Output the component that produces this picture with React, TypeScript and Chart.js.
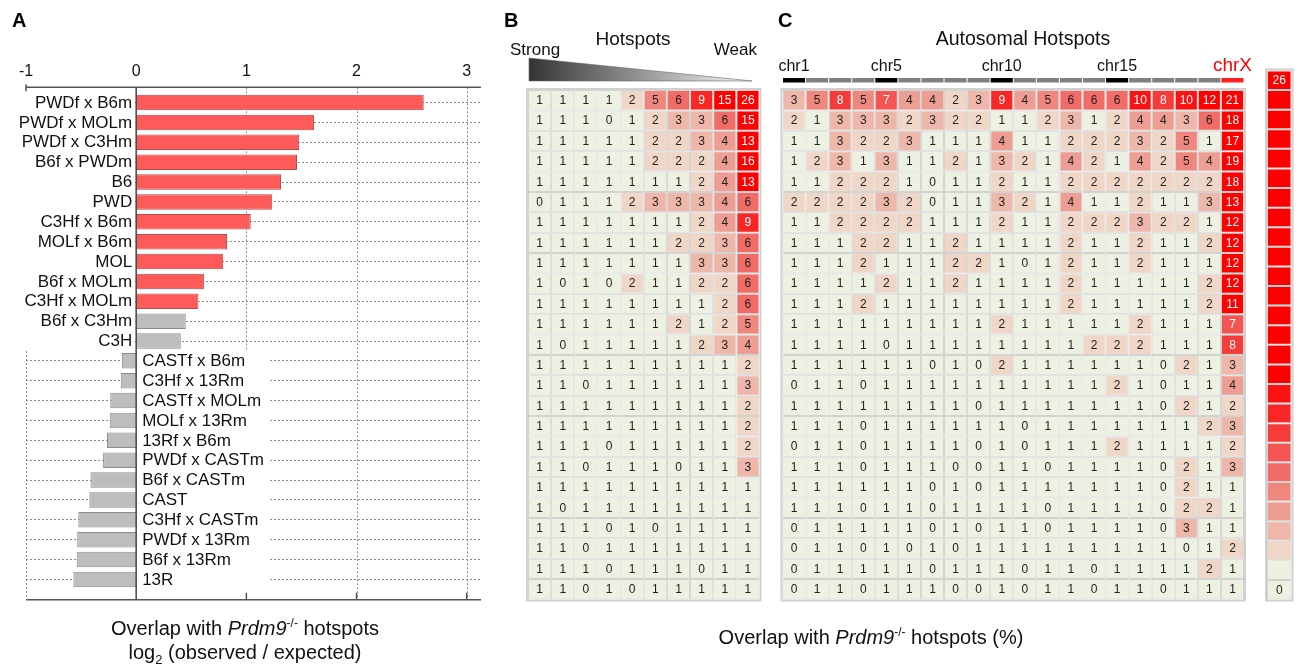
import React, { useEffect, useRef } from 'react';
import { Chart, registerables } from 'chart.js';

Chart.register(...registerables);

const FONT = '"Liberation Sans", Arial, Helvetica, sans-serif';

// ---------- Panel A data ----------
const strainCrosses = [
  'PWDf x B6m', 'PWDf x MOLm', 'PWDf x C3Hm', 'B6f x PWDm', 'B6', 'PWD', 'C3Hf x B6m',
  'MOLf x B6m', 'MOL', 'B6f x MOLm', 'C3Hf x MOLm', 'B6f x C3Hm', 'C3H',
  'CASTf x B6m', 'C3Hf x 13Rm', 'CASTf x MOLm', 'MOLf x 13Rm', '13Rf x B6m', 'PWDf x CASTm',
  'B6f x CASTm', 'CAST', 'C3Hf x CASTm', 'PWDf x 13Rm', 'B6f x 13Rm', '13R',
];
const log2ObsExp = [
  2.61, 1.615, 1.48, 1.46, 1.315, 1.235, 1.04, 0.825, 0.79, 0.615, 0.565, 0.45, 0.405,
  -0.13, -0.14, -0.235, -0.24, -0.265, -0.30, -0.415, -0.425, -0.525, -0.535, -0.54, -0.57,
];
const enriched = [
  true, true, true, true, true, true, true, true, true, true, true, false, false,
  false, false, false, false, false, false, false, false, false, false, false, false,
];
const xTickLabels = [-1, 0, 1, 2, 3];

// ---------- Panel B data (hotspot strength bins, strong -> weak) ----------
const overlapByStrength = [
  [1, 1, 1, 1, 2, 5, 6, 9, 15, 26],
  [1, 1, 1, 0, 1, 2, 3, 3, 6, 15],
  [1, 1, 1, 1, 1, 2, 2, 3, 4, 13],
  [1, 1, 1, 1, 1, 2, 2, 2, 4, 16],
  [1, 1, 1, 1, 1, 1, 1, 2, 4, 13],
  [0, 1, 1, 1, 2, 3, 3, 3, 4, 6],
  [1, 1, 1, 1, 1, 1, 1, 2, 4, 9],
  [1, 1, 1, 1, 1, 1, 2, 2, 3, 6],
  [1, 1, 1, 1, 1, 1, 1, 3, 3, 6],
  [1, 0, 1, 0, 2, 1, 1, 2, 2, 6],
  [1, 1, 1, 1, 1, 1, 1, 1, 2, 6],
  [1, 1, 1, 1, 1, 1, 2, 1, 2, 5],
  [1, 0, 1, 1, 1, 1, 1, 2, 3, 4],
  [1, 1, 1, 1, 1, 1, 1, 1, 1, 2],
  [1, 1, 0, 1, 1, 1, 1, 1, 1, 3],
  [1, 1, 1, 1, 1, 1, 1, 1, 1, 2],
  [1, 1, 1, 1, 1, 1, 1, 1, 1, 2],
  [1, 1, 1, 0, 1, 1, 1, 1, 1, 2],
  [1, 1, 0, 1, 1, 1, 0, 1, 1, 3],
  [1, 1, 1, 1, 1, 1, 1, 1, 1, 1],
  [1, 0, 1, 1, 1, 1, 1, 1, 1, 1],
  [1, 1, 1, 0, 1, 0, 1, 1, 1, 1],
  [1, 1, 0, 1, 1, 1, 1, 1, 1, 1],
  [1, 1, 1, 0, 1, 1, 1, 0, 1, 1],
  [1, 1, 0, 1, 0, 1, 1, 1, 1, 1],
];

// ---------- Panel C data (chromosomes) ----------
const chromosomes = [
  'chr1', 'chr2', 'chr3', 'chr4', 'chr5', 'chr6', 'chr7', 'chr8', 'chr9', 'chr10',
  'chr11', 'chr12', 'chr13', 'chr14', 'chr15', 'chr16', 'chr17', 'chr18', 'chr19', 'chrX',
];
const labelledChromosomes = ['chr1', 'chr5', 'chr10', 'chr15', 'chrX'];
const overlapByChromosome = [
  [3, 5, 8, 5, 7, 4, 4, 2, 3, 9, 4, 5, 6, 6, 6, 10, 8, 10, 12, 21],
  [2, 1, 3, 3, 3, 2, 3, 2, 2, 1, 1, 2, 3, 1, 2, 4, 4, 3, 6, 18],
  [1, 1, 3, 2, 2, 3, 1, 1, 1, 4, 1, 1, 2, 2, 2, 3, 2, 5, 1, 17],
  [1, 2, 3, 1, 3, 1, 1, 2, 1, 3, 2, 1, 4, 2, 1, 4, 2, 5, 4, 19],
  [1, 1, 2, 2, 2, 1, 0, 1, 1, 2, 1, 1, 2, 2, 2, 2, 2, 2, 2, 18],
  [2, 2, 2, 2, 3, 2, 0, 1, 1, 3, 2, 1, 4, 1, 1, 2, 1, 1, 3, 13],
  [1, 1, 2, 2, 2, 2, 1, 1, 1, 2, 1, 1, 2, 2, 2, 3, 2, 2, 1, 12],
  [1, 1, 1, 2, 2, 1, 1, 2, 1, 1, 1, 1, 2, 1, 1, 2, 1, 1, 2, 12],
  [1, 1, 1, 2, 1, 1, 1, 2, 2, 1, 0, 1, 2, 1, 1, 2, 1, 1, 1, 12],
  [1, 1, 1, 1, 2, 1, 1, 2, 1, 1, 1, 1, 2, 1, 1, 1, 1, 1, 2, 12],
  [1, 1, 1, 2, 1, 1, 1, 1, 1, 1, 1, 1, 2, 1, 1, 1, 1, 1, 2, 11],
  [1, 1, 1, 1, 1, 1, 1, 1, 1, 2, 1, 1, 1, 1, 1, 2, 1, 1, 1, 7],
  [1, 1, 1, 1, 0, 1, 1, 1, 1, 1, 1, 1, 1, 2, 2, 2, 1, 1, 1, 8],
  [1, 1, 1, 1, 1, 1, 0, 1, 0, 2, 1, 1, 1, 1, 1, 1, 0, 2, 1, 3],
  [0, 1, 1, 0, 1, 1, 1, 1, 1, 1, 1, 1, 1, 1, 2, 1, 0, 1, 1, 4],
  [1, 1, 1, 1, 1, 1, 1, 1, 0, 1, 1, 1, 1, 1, 1, 1, 0, 2, 1, 2],
  [1, 1, 1, 0, 1, 1, 1, 1, 1, 1, 0, 1, 1, 1, 1, 1, 1, 1, 2, 3],
  [0, 1, 1, 0, 1, 1, 1, 1, 0, 1, 0, 1, 1, 1, 2, 1, 1, 1, 1, 2],
  [1, 1, 1, 0, 1, 1, 1, 0, 0, 1, 1, 0, 1, 1, 1, 1, 0, 2, 1, 3],
  [1, 1, 1, 1, 1, 1, 0, 1, 0, 1, 1, 1, 1, 1, 1, 1, 0, 2, 1, 1],
  [1, 1, 1, 0, 1, 1, 0, 1, 1, 1, 1, 0, 1, 1, 1, 1, 0, 2, 2, 1],
  [0, 1, 1, 1, 1, 1, 0, 1, 0, 1, 1, 0, 1, 1, 1, 1, 0, 3, 1, 1],
  [0, 1, 1, 0, 1, 0, 1, 0, 1, 1, 1, 1, 1, 1, 1, 1, 1, 0, 1, 2],
  [0, 1, 1, 1, 1, 1, 0, 1, 1, 1, 0, 1, 1, 0, 1, 1, 1, 1, 2, 1],
  [0, 1, 1, 0, 1, 1, 1, 0, 0, 1, 0, 1, 1, 0, 1, 1, 0, 1, 1, 1],
];

// ---------- Colour key ----------
const colourKeyValues = [26, 25, 24, 23, 22, 21, 20, 19, 18, 17, 16, 15, 14, 13, 12, 11, 10, 9, 8, 7, 6, 5, 4, 3, 2, 1, 0];
const colourKeyShown = [26, 0];

const heatPalette = ['#EDF1E1', '#EDF1E1', '#EFD6C7', '#EEB7AA', '#EE9D93', '#F0877F', '#F26C67', '#F45553', '#F63C3A', '#F92626', '#FC1212'];
function heatColor(v: number) {
  return v >= heatPalette.length ? '#FF0000' : heatPalette[v];
}

function line(ctx: CanvasRenderingContext2D, x0: number, y0: number, x1: number, y1: number) {
  ctx.beginPath();
  ctx.moveTo(x0, y0);
  ctx.lineTo(x1, y1);
  ctx.stroke();
}

// ---------- Panel A plugin ----------
const panelAPlugin = {
  id: 'panelADecor',
  beforeDatasetsDraw(chart: any) {
    const { ctx, chartArea: ca, scales } = chart;
    const x = scales.x, y = scales.y;
    const topY = ca.top - 5.3, botY = ca.bottom + 10.3;
    const zeroX = x.getPixelForValue(0);
    const firstNeg = log2ObsExp.findIndex((v) => v < 0);
    const split = (y.getPixelForValue(firstNeg - 1) + y.getPixelForValue(firstNeg)) / 2;
    ctx.save();
    ctx.strokeStyle = '#8a8a8a';
    ctx.lineWidth = 1;
    ctx.setLineDash([2, 2]);
    [1, 2, 3].forEach((v) => {
      const px = Math.round(x.getPixelForValue(v)) + 0.5;
      line(ctx, px, topY, px, botY);
    });
    const lx = Math.round(x.getPixelForValue(-1)) + 0.5;
    line(ctx, lx, split, lx, botY);
    ctx.setLineDash([]);
    // label masks
    ctx.font = `17px ${FONT}`;
    let maxW = 0;
    strainCrosses.forEach((s, i) => {
      if (log2ObsExp[i] < 0) maxW = Math.max(maxW, ctx.measureText(s).width);
    });
    ctx.fillStyle = '#ffffff';
    ctx.fillRect(ca.left - 2, topY + 1, zeroX - ca.left + 1, split - topY - 1);
    ctx.fillRect(zeroX + 1, split, maxW + 11, botY - split - 1);
    ctx.restore();
  },
  afterDatasetsDraw(chart: any) {
    const { ctx, chartArea: ca, scales } = chart;
    const x = scales.x, y = scales.y;
    const topY = ca.top - 5.3, botY = ca.bottom + 10.3;
    const zeroX = x.getPixelForValue(0);
    ctx.save();
    ctx.strokeStyle = '#555';
    ctx.lineWidth = 1.5;
    line(ctx, ca.left, topY, ca.right, topY);
    line(ctx, ca.left, topY - 3, ca.left, topY + 4);
    line(ctx, ca.left, botY, ca.right, botY);
    [1, 2, 3].forEach((v) => {
      const px = x.getPixelForValue(v);
      line(ctx, px, botY - 7, px, botY);
    });
    ctx.strokeStyle = '#444';
    line(ctx, zeroX, topY, zeroX, botY);
    ctx.fillStyle = '#111';
    ctx.font = `16px ${FONT}`;
    ctx.textAlign = 'center';
    ctx.textBaseline = 'alphabetic';
    xTickLabels.forEach((v) => ctx.fillText(String(v), x.getPixelForValue(v), topY - 11));
    ctx.font = `17px ${FONT}`;
    ctx.textBaseline = 'middle';
    strainCrosses.forEach((s, i) => {
      const py = y.getPixelForValue(i) + 0.5;
      if (log2ObsExp[i] >= 0) {
        ctx.textAlign = 'right';
        ctx.fillText(s, zeroX - 4, py);
      } else {
        ctx.textAlign = 'left';
        ctx.fillText(s, zeroX + 6, py);
      }
    });
    ctx.restore();
  },
};

function buildPanelA(canvas: HTMLCanvasElement) {
  return new Chart(canvas, {
    type: 'bar',
    data: {
      labels: strainCrosses,
      datasets: [
        {
          data: log2ObsExp,
          backgroundColor: enriched.map((e) => (e ? '#FF5A5A' : '#BDBDBD')),
          borderColor: enriched.map((e) => (e ? '#B84A4A' : '#8A8A8A')),
          borderWidth: 1,
          barPercentage: 0.78,
          categoryPercentage: 1,
        },
      ],
    },
    options: {
      indexAxis: 'y',
      responsive: false,
      animation: false,
      events: [],
      layout: { padding: { left: 26, right: 19, top: 92.6, bottom: 70.6 } },
      plugins: { legend: { display: false }, tooltip: { enabled: false } },
      scales: {
        x: {
          type: 'linear',
          min: -1,
          max: 3.13,
          ticks: { display: false, stepSize: 1 },
          grid: { display: false },
          border: { display: false },
        },
        y: {
          ticks: { display: false },
          grid: { offset: false, drawTicks: false, color: '#8a8a8a', lineWidth: 1 },
          border: { display: false, dash: [2, 2] },
        },
      },
    },
    plugins: [panelAPlugin],
  } as any);
}

// ---------- Heatmaps ----------
function cellTextPlugin(matrix: number[][], shown?: (v: number, r: number) => boolean) {
  return {
    id: 'cellText',
    afterDatasetsDraw(chart: any) {
      const ctx = chart.ctx;
      ctx.save();
      ctx.font = `12px ${FONT}`;
      ctx.textAlign = 'center';
      ctx.textBaseline = 'middle';
      chart.data.datasets.forEach((_: any, c: number) => {
        chart.getDatasetMeta(c).data.forEach((el: any, r: number) => {
          const v = matrix[r][c];
          if (shown && !shown(v, r)) return;
          const p = el.getProps(['x', 'y', 'base'], true);
          ctx.fillStyle = v >= 7 ? '#ffffff' : '#222222';
          ctx.fillText(String(v), (p.x + p.base) / 2, p.y + 0.5);
        });
      });
      ctx.restore();
    },
  };
}

const framePlugin = {
  id: 'frame',
  beforeDatasetsDraw(chart: any) {
    const { ctx, chartArea: ca } = chart;
    ctx.save();
    ctx.strokeStyle = '#D0D0D0';
    ctx.lineWidth = 2;
    ctx.strokeRect(ca.left - 1, ca.top - 1, ca.right - ca.left + 2, ca.bottom - ca.top + 2);
    ctx.restore();
  },
};

const chromosomePlugin = {
  id: 'chromBar',
  afterDraw(chart: any) {
    const { ctx } = chart;
    const x = chart.scales.x;
    ctx.save();
    ctx.textAlign = 'center';
    ctx.textBaseline = 'alphabetic';
    chromosomes.forEach((name, i) => {
      const x0 = x.getPixelForValue(i) + 0.5;
      const x1 = x.getPixelForValue(i + 1) - 0.5;
      const isX = name === 'chrX';
      const labelled = labelledChromosomes.includes(name);
      ctx.fillStyle = isX ? '#FF2020' : labelled ? '#000000' : '#808080';
      ctx.fillRect(x0, 78, x1 - x0, 4.5);
      if (labelled) {
        ctx.fillStyle = isX ? '#FF0000' : '#111111';
        ctx.font = `${isX ? 19 : 16}px ${FONT}`;
        ctx.fillText(name, (x0 + x1) / 2, 70.5);
      }
    });
    ctx.restore();
  },
};

function buildHeatmap(
  canvas: HTMLCanvasElement,
  matrix: number[][],
  padding: any,
  extra: any[] = [],
  shown?: (v: number, r: number) => boolean,
) {
  const nCols = matrix[0].length;
  const datasets = matrix[0].map((_, c) => ({
    data: matrix.map(() => 1),
    backgroundColor: matrix.map((row) => heatColor(row[c])),
    borderColor: '#D2D2D2',
    borderWidth: 1,
    borderSkipped: false,
    inflateAmount: 0,
    barPercentage: 1,
    categoryPercentage: 1,
  }));
  return new Chart(canvas, {
    type: 'bar',
    data: { labels: matrix.map((_, r) => String(r + 1)), datasets },
    options: {
      indexAxis: 'y',
      responsive: false,
      animation: false,
      events: [],
      layout: { padding },
      plugins: { legend: { display: false }, tooltip: { enabled: false } },
      scales: {
        x: { stacked: true, min: 0, max: nCols, display: false },
        y: { stacked: true, display: false },
      },
    },
    plugins: [framePlugin, cellTextPlugin(matrix, shown), ...extra],
  } as any);
}

function ChartCanvas(props: { left: number; top: number; width: number; height: number; build: (c: HTMLCanvasElement) => Chart }) {
  const ref = useRef<HTMLCanvasElement | null>(null);
  useEffect(() => {
    if (!ref.current) return;
    const chart = props.build(ref.current);
    return () => chart.destroy();
  }, []);
  return (
    <canvas
      ref={ref}
      width={props.width}
      height={props.height}
      style={{ position: 'absolute', left: props.left, top: props.top, width: props.width, height: props.height, display: 'block' }}
    />
  );
}

export default function App() {
  const keyMatrix = colourKeyValues.map((v) => [v]);
  return (
    <div style={{ position: 'absolute', left: 0, top: 0, width: 1298, height: 668, background: '#fff', overflow: 'hidden' }}>
      <ChartCanvas left={0} top={0} width={500} height={668} build={buildPanelA} />
      <ChartCanvas
        left={500}
        top={0}
        width={270}
        height={610}
        build={(c) => buildHeatmap(c, overlapByStrength, { left: 28, right: 10.5, top: 90, bottom: 10.5 })}
      />
      <ChartCanvas
        left={770}
        top={0}
        width={490}
        height={610}
        build={(c) => buildHeatmap(c, overlapByChromosome, { left: 12.5, right: 16, top: 90, bottom: 10.5 }, [chromosomePlugin])}
      />
      <ChartCanvas
        left={1260}
        top={0}
        width={38}
        height={610}
        build={(c) =>
          buildHeatmap(c, keyMatrix, { left: 7, right: 6.5, top: 70.5, bottom: 10.5 }, [], (v) => colourKeyShown.includes(v))
        }
      />
      <svg
        width={1298}
        height={668}
        style={{ position: 'absolute', left: 0, top: 0, pointerEvents: 'none' }}
        fontFamily={FONT}
      >
        <defs>
          <linearGradient id="strengthGrad" x1="0" x2="1" y1="0" y2="0">
            <stop offset="0" stopColor="#333333" />
            <stop offset="1" stopColor="#f8f8f8" />
          </linearGradient>
        </defs>
        <text x={12} y={27} fontSize={20} fontWeight="bold" fill="#000">A</text>
        <text x={504} y={27} fontSize={20} fontWeight="bold" fill="#000">B</text>
        <text x={778} y={27} fontSize={20} fontWeight="bold" fill="#000">C</text>
        <text x={633} y={45} fontSize={19} textAnchor="middle" fill="#111">Hotspots</text>
        <text x={510} y={55} fontSize={17} fill="#111">Strong</text>
        <text x={757} y={55} fontSize={17} textAnchor="end" fill="#111">Weak</text>
        <polygon points="529,58 752,81 529,81" fill="url(#strengthGrad)" stroke="#666" strokeWidth={0.6} />
        <text x={1023} y={45} fontSize={19.5} textAnchor="middle" fill="#111">Autosomal Hotspots</text>
        <text x={245} y={635} fontSize={20} textAnchor="middle" fill="#111">
          Overlap with <tspan fontStyle="italic">Prdm9</tspan>
          <tspan dy={-8} fontSize={12}>-/-</tspan>
          <tspan dy={8}> hotspots</tspan>
        </text>
        <text x={245} y={659} fontSize={20} textAnchor="middle" fill="#111">
          log<tspan dy={5} fontSize={13}>2</tspan>
          <tspan dy={-5}> (observed / expected)</tspan>
        </text>
        <text x={871} y={644} fontSize={20} textAnchor="middle" fill="#111">
          Overlap with <tspan fontStyle="italic">Prdm9</tspan>
          <tspan dy={-8} fontSize={12}>-/-</tspan>
          <tspan dy={8}> hotspots (%)</tspan>
        </text>
      </svg>
    </div>
  );
}
